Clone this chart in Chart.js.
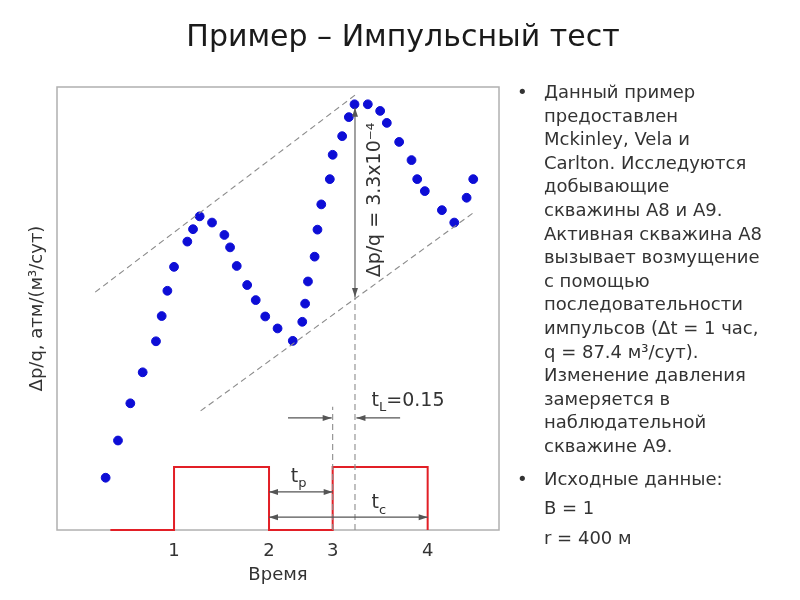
<!DOCTYPE html>
<html>
<head>
<meta charset="utf-8">
<script src="https://cdn.jsdelivr.net/npm/chart.js@4.4.1/dist/chart.umd.min.js"></script>
<style>
  body { margin: 0; background: #fff; }
  #wrap { position: relative; width: 800px; height: 600px; overflow: hidden; }
  #title { position: absolute; left: 0; top: 18px; width: 806px; text-align: center;
           font: 30px "DejaVu Sans", sans-serif; color: #1a1a1a; }
  #notes { position: absolute; left: 517px; top: 80px; width: 283px;
           font: 18px "DejaVu Sans", sans-serif; color: #333; white-space: nowrap; }
  .item { position: relative; padding-left: 27px; line-height: 23.6px; }
  .item .dot { position: absolute; left: 0; top: 0; }
  .gap { margin-top: 6px; }
  .line2 { line-height: 29.5px; padding-left: 27px; }
</style>
</head>
<body>
<div id="wrap">
  <canvas id="pulseChart" width="800" height="600"></canvas>
  <div id="title">Пример – Импульсный тест</div>
  <div id="notes">
    <div class="item"><span class="dot">•</span>Данный пример<br>предоставлен<br>Mckinley, Vela и<br>Carlton. Исследуются<br>добывающие<br>скважины A8 и A9.<br>Активная скважина A8<br>вызывает возмущение<br>с помощью<br>последовательности<br>импульсов (Δt = 1 час,<br>q = 87.4 м³/сут).<br>Изменение давления<br>замеряется в<br>наблюдательной<br>скважине A9.</div>
    <div class="item gap" style="line-height:29.5px"><span class="dot">•</span>Исходные данные:</div>
    <div class="line2">B = 1</div>
    <div class="line2">r = 400 м</div>
  </div>
</div>
<script>
// observed pressure response (dimensionless plot units)
const pressX = [0.28, 0.41, 0.54, 0.67, 0.81, 0.87, 0.93, 1.00, 1.14, 1.20, 1.27, 1.40, 1.53, 1.59, 1.66,
                1.77, 1.86, 1.96, 2.09, 2.25, 2.35, 2.38, 2.41, 2.48, 2.51, 2.55, 2.64, 2.67, 2.77, 2.84,
                2.90, 3.04, 3.17, 3.24, 3.37, 3.50, 3.56, 3.64, 3.82, 3.95, 4.08, 4.15];
const pressY = [1.18, 2.02, 2.86, 3.56, 4.26, 4.83, 5.40, 5.94, 6.51, 6.79, 7.08, 6.94, 6.66, 6.38, 5.96,
                5.53, 5.19, 4.82, 4.55, 4.27, 4.70, 5.11, 5.61, 6.17, 6.78, 7.35, 7.92, 8.47, 8.89, 9.32,
                9.61, 9.61, 9.46, 9.19, 8.76, 8.35, 7.92, 7.65, 7.22, 6.94, 7.50, 7.92];

// rate pulses (stepped)
const pulseX = [0.33, 1, 2, 2.67, 3.67];
const pulseY = [0, 1.42, 0, 1.42, 0];

// axis ticks sit on the pulse edges
const xTickPos = [1, 2, 2.67, 3.67];
const xTickLabels = ['1', '2', '3', '4'];

// guide lines
const upperGuideX = [0.17, 2.92], upperGuideY = [5.37, 9.84];
const lowerGuideX = [1.28, 4.17], lowerGuideY = [2.69, 7.19];
const pulseMarkX = [2.67, 2.67], pulseMarkY = [0, 2.78];
const lagMarkX = [2.905, 2.905], lagMarkY = [0, 5.26];

const toPts = (xs, ys) => xs.map((x, i) => ({ x: x, y: ys[i] }));
const guide = (xs, ys) => ({
  type: 'line', data: toPts(xs, ys), borderColor: '#8c8c8c', borderWidth: 1.1,
  borderDash: [6, 4], pointRadius: 0, fill: false
});

function arrowHead(ctx, x, y, dx, dy) {
  const len = 9, w = 3;
  ctx.beginPath();
  ctx.moveTo(x, y);
  ctx.lineTo(x - dx * len - dy * w, y - dy * len + dx * w);
  ctx.lineTo(x - dx * len + dy * w, y - dy * len - dx * w);
  ctx.closePath();
  ctx.fill();
}
function arrow(ctx, x1, y1, x2, y2, both) {
  const d = Math.hypot(x2 - x1, y2 - y1), dx = (x2 - x1) / d, dy = (y2 - y1) / d;
  ctx.beginPath(); ctx.moveTo(x1, y1); ctx.lineTo(x2, y2); ctx.stroke();
  arrowHead(ctx, x2, y2, dx, dy);
  if (both) arrowHead(ctx, x1, y1, -dx, -dy);
}
function subText(ctx, main, sub, x, y) {
  ctx.font = '19px "DejaVu Sans"';
  ctx.textBaseline = 'middle';
  ctx.textAlign = 'left';
  ctx.fillText(main, x, y);
  const w = ctx.measureText(main).width;
  ctx.font = '13px "DejaVu Sans"';
  ctx.fillText(sub, x + w, y + 7);
  return x + w + ctx.measureText(sub).width;
}

const annotations = {
  id: 'annotations',
  beforeDatasetsDraw(chart) {
    // plot frame under the data
    const { ctx, chartArea: a } = chart;
    ctx.save();
    ctx.strokeStyle = '#b0b0b0'; ctx.lineWidth = 1.5;
    ctx.strokeRect(a.left, a.top, a.right - a.left, a.bottom - a.top);
    ctx.restore();
  },
  afterDatasetsDraw(chart) {
    const { ctx, scales: { x, y } } = chart;
    ctx.save();
    ctx.strokeStyle = '#555'; ctx.fillStyle = '#555'; ctx.lineWidth = 1.1;
    // Δp/q arrow
    arrow(ctx, x.getPixelForValue(2.905), y.getPixelForValue(5.26), x.getPixelForValue(2.905), y.getPixelForValue(9.53), true);
    // t_L arrows
    arrow(ctx, x.getPixelForValue(2.2), y.getPixelForValue(2.53), x.getPixelForValue(2.66), y.getPixelForValue(2.53), false);
    arrow(ctx, x.getPixelForValue(3.38), y.getPixelForValue(2.53), x.getPixelForValue(2.92), y.getPixelForValue(2.53), false);
    // t_p and t_c
    arrow(ctx, x.getPixelForValue(2.0), y.getPixelForValue(0.86), x.getPixelForValue(2.67), y.getPixelForValue(0.86), true);
    arrow(ctx, x.getPixelForValue(2.0), y.getPixelForValue(0.29), x.getPixelForValue(3.67), y.getPixelForValue(0.29), true);

    ctx.fillStyle = '#333';
    // rotated Δp/q label
    ctx.save();
    ctx.translate(x.getPixelForValue(3.12), y.getPixelForValue(7.45));
    ctx.rotate(-Math.PI / 2);
    ctx.font = '19px "DejaVu Sans"';
    ctx.textAlign = 'center'; ctx.textBaseline = 'middle';
    ctx.fillText('Δp/q = 3.3x10⁻⁴', 0, 0);
    ctx.restore();

    const e = subText(ctx, 't', 'L', x.getPixelForValue(3.08), y.getPixelForValue(2.91));
    ctx.font = '19px "DejaVu Sans"';
    ctx.fillText('=0.15', e, y.getPixelForValue(2.91));
    subText(ctx, 't', 'p', x.getPixelForValue(2.23), y.getPixelForValue(1.2));
    subText(ctx, 't', 'c', x.getPixelForValue(3.08), y.getPixelForValue(0.6));
    ctx.restore();
  }
};

const ctx = document.getElementById('pulseChart').getContext('2d');
const pulseChart = new Chart(ctx, {
  data: {
    datasets: [
      guide(upperGuideX, upperGuideY),
      guide(lowerGuideX, lowerGuideY),
      guide(pulseMarkX, pulseMarkY),
      guide(lagMarkX, lagMarkY),
      {
        type: 'line', data: toPts(pulseX, pulseY), stepped: 'before', clip: false,
        borderColor: '#e21f26', borderWidth: 2, pointRadius: 0, fill: false
      },
      {
        type: 'scatter', data: toPts(pressX, pressY),
        backgroundColor: '#0d0dd6', borderColor: '#0d0dd6', pointRadius: 4.4, pointHoverRadius: 4.4
      }
    ]
  },
  options: {
    responsive: false,
    animation: false,
    events: [],
    layout: { padding: { top: 87, right: 301, left: 0, bottom: 0 } },
    plugins: { legend: { display: false }, tooltip: { enabled: false } },
    scales: {
      x: {
        type: 'linear', min: -0.232, max: 4.421,
        grid: { display: false }, border: { display: false },
        afterBuildTicks: s => { s.ticks = xTickPos.map(v => ({ value: v })); },
        afterFit: s => { s.height = 70; },
        ticks: {
          callback: (v, i) => xTickLabels[i],
          font: { family: 'DejaVu Sans', size: 18 }, color: '#333', padding: 3, maxRotation: 0
        },
        title: {
          display: true, text: 'Время', color: '#333',
          font: { family: 'DejaVu Sans', size: 18 }, padding: { top: 0, bottom: 14 }
        }
      },
      y: {
        type: 'linear', min: 0, max: 10,
        grid: { display: false }, border: { display: false },
        ticks: { display: false },
        afterFit: s => { s.width = 57; },
        title: {
          display: true, text: 'Δp/q, атм/(м³/сут)', color: '#333',
          font: { family: 'DejaVu Sans', size: 18 }, padding: { top: 27, bottom: 0 }
        }
      }
    }
  },
  plugins: [annotations]
});
</script>
</body>
</html>
